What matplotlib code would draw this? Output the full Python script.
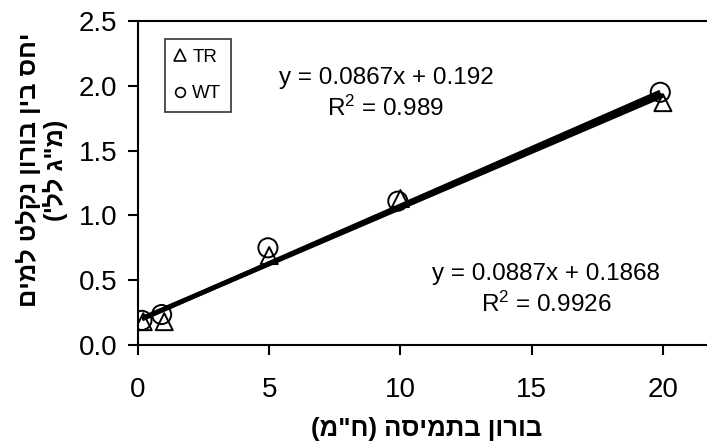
import matplotlib
matplotlib.use("Agg")
import matplotlib.pyplot as plt
from matplotlib.lines import Line2D
import numpy as np

plt.rcParams['font.family'] = ['Liberation Sans', 'DejaVu Sans']
plt.rcParams['mathtext.fontset'] = 'custom'
plt.rcParams['mathtext.rm'] = 'Liberation Sans'
plt.rcParams['mathtext.default'] = 'regular'

# Boron in solution (ppm) vs. ratio of absorbed boron to water (mg/L)
tr_x = [0.2, 1.0, 5.0, 10.0, 20.0]
tr_y = [0.18, 0.18, 0.69, 1.13, 1.87]
wt_x = [0.15, 0.9, 4.95, 9.9, 19.9]
wt_y = [0.19, 0.235, 0.75, 1.11, 1.95]

# Linear fits: slope, intercept, R^2
tr_fit = [0.0867, 0.192, 0.989]
wt_fit = [0.0887, 0.1868, 0.9926]

x_ticks = [0, 5, 10, 15, 20]
y_ticks = [0.0, 0.5, 1.0, 1.5, 2.0, 2.5]

# Hebrew labels written in visual (left-to-right) order
xlabel = '(מ"ח) הסימתב ןורוב'
ylabel = 'םימל טלקנ ןורוב ןיב סחי' + '\n' + '(\'לל ג"מ)'

fig = plt.figure(figsize=(7.07, 4.48), dpi=100)
ax = fig.add_axes([138 / 707, 1 - 345 / 448, 1 - 138 / 707, (345 - 21) / 448])

ax.scatter(tr_x, tr_y, marker='^', s=150, facecolors='none',
           edgecolors='black', linewidths=1.4, zorder=3)
ax.scatter(wt_x, wt_y, marker='o', s=190, facecolors='none',
           edgecolors='black', linewidths=1.4, zorder=3)

for xs, fit in ((tr_x, tr_fit), (wt_x, wt_fit)):
    xl = np.array([min(xs), max(xs)])
    ax.plot(xl, fit[0] * xl + fit[1], color='black', lw=3.4,
            solid_capstyle='butt', zorder=4)

ax.set_xlim(0, 21.68)
ax.set_ylim(0, 2.5)
ax.set_xticks(x_ticks)
ax.set_yticks(y_ticks)
ax.set_yticklabels([f'{v:.1f}' for v in y_ticks])
ax.spines['right'].set_visible(False)
for s in ('left', 'top', 'bottom'):
    ax.spines[s].set_linewidth(1.5)
ax.tick_params(axis='both', direction='out', length=7, width=1.5,
               labelsize=20)
ax.tick_params(axis='x', pad=16)
ax.tick_params(axis='y', pad=8)

fig.text(386 / 707, 1 - 94 / 448,
         f'y = {tr_fit[0]}x + {tr_fit[1]}\nR$^2$ = {tr_fit[2]}',
         ha='center', va='center', fontsize=17.5, multialignment='center',
         linespacing=1.35)
fig.text(546 / 707, 1 - 290 / 448,
         f'y = {wt_fit[0]}x + {wt_fit[1]}\nR$^2$ = {wt_fit[2]}',
         ha='center', va='center', fontsize=17.5, multialignment='center',
         linespacing=1.35)

handles = [
    Line2D([], [], marker='^', ls='none', markersize=8, markerfacecolor='none',
           markeredgecolor='black', markeredgewidth=1.2, label='TR'),
    Line2D([], [], marker='o', ls='none', markersize=7, markerfacecolor='none',
           markeredgecolor='black', markeredgewidth=1.2, label='WT'),
]
leg = ax.legend(handles=handles, loc='upper left',
                bbox_to_anchor=((165 - 138) / 569, 1 - (39 - 21) / 324),
                fontsize=13.5, frameon=True, fancybox=False, edgecolor='black',
                handlelength=0.6, handletextpad=0.35, borderpad=0.5,
                labelspacing=1.05, borderaxespad=0)
leg.get_frame().set_linewidth(1.2)

fig.text(427 / 707, 1 - 429 / 448, xlabel, ha='center', va='center',
         fontsize=18.5, fontweight='bold')
fig.text(42 / 707, 1 - 170 / 448, ylabel, ha='center', va='center',
         rotation=90, fontsize=18.3, fontweight='bold',
         multialignment='center', linespacing=1.05)

fig.savefig('out.png', dpi=100)
